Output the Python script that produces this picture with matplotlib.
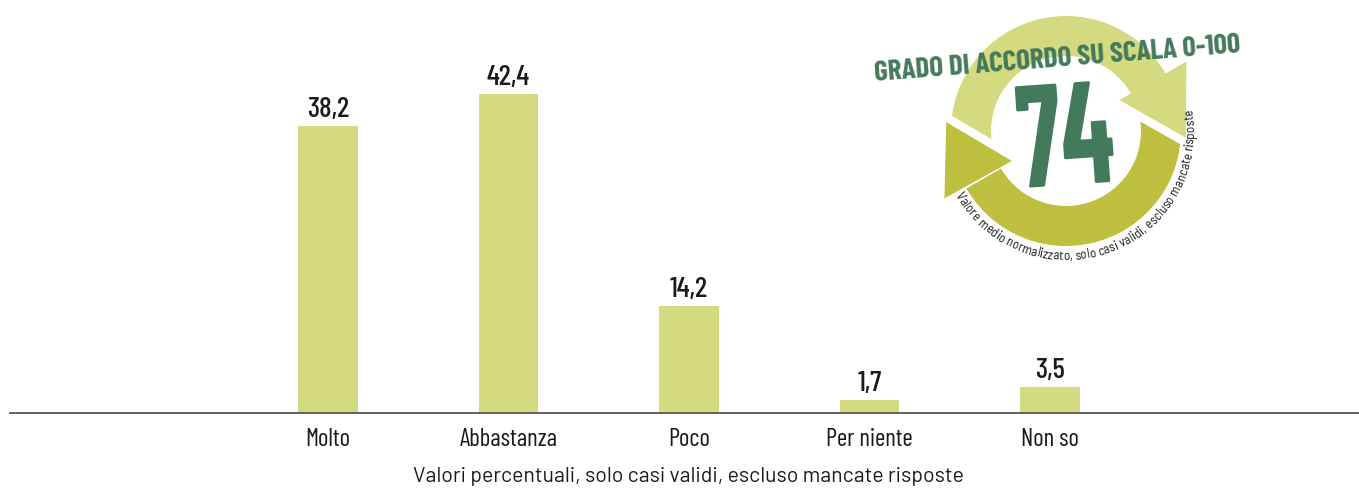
import numpy as np
import matplotlib
matplotlib.use('Agg')
import matplotlib.pyplot as plt
from matplotlib.patches import Wedge, Polygon, PathPatch
from matplotlib.textpath import TextToPath, TextPath
from matplotlib.font_manager import FontProperties
from matplotlib.transforms import Affine2D

# data
categories = ['Molto', 'Abbastanza', 'Poco', 'Per niente', 'Non so']
values = [38.2, 42.4, 14.2, 1.7, 3.5]
score = 74
axis_note = 'Valori percentuali, solo casi validi, escluso mancate risposte'
badge_title = 'GRADO DI ACCORDO SU SCALA 0-100'
badge_note = 'Valore medio normalizzato, solo casi validi, escluso mancate risposte'

# colours
bar_col = '#d4da80'
dark_col = '#bebe3f'
green = '#437a5b'

cond = ['Barlow Condensed', 'Roboto Condensed', 'DejaVu Sans']
semi = ['Barlow Semi Condensed', 'Roboto Condensed', 'DejaVu Sans']
plain = ['Barlow', 'Roboto', 'DejaVu Sans']

W, H = 1359, 489
fig = plt.figure(figsize=(W / 100, H / 100), dpi=100)

# main bar chart
ax = fig.add_axes([10 / W, 75 / H, 1349 / W, 414 / H])
x = np.arange(len(categories))
ax.bar(x, values, width=0.33, color=bar_col, zorder=2)
ax.set_xlim(-1.76, 5.71)
ax.set_ylim(0, 55.1)
for xi, v in zip(x, values):
    ax.annotate(f'{v:.1f}'.replace('.', ','), (xi, v), xytext=(0, 3),
                textcoords='offset points', ha='center', va='bottom',
                family=cond, weight=500, fontsize=21, color='#1a1a1a')
ax.set_xticks(x)
ax.set_xticklabels(categories, family=cond, fontsize=18, color='#1a1a1a')
ax.tick_params(axis='x', length=0, pad=10)
ax.set_yticks([])
for s in ['top', 'left', 'right']:
    ax.spines[s].set_visible(False)
ax.spines['bottom'].set_color('#555555')
ax.spines['bottom'].set_linewidth(1.3)

fig.text(688.5 / W, 1 - 477 / H, axis_note, ha='center', va='center',
         family=plain, fontsize=15.3, color='#1a1a1a')

# badge, drawn in pixel coords (y up)
bx = fig.add_axes([0, 0, 1, 1], facecolor='none')
bx.set_xlim(0, W)
bx.set_ylim(0, H)
bx.axis('off')

cx, cy = 1066, H - 132
r_out, r_in = 115, 75
r_mid = (r_out + r_in) / 2


def head(base_deg, length=70, r0=57, r1=139):
    t = np.radians(base_deg)
    inner = (cx + r0 * np.cos(t), cy + r0 * np.sin(t))
    outer = (cx + r1 * np.cos(t), cy + r1 * np.sin(t))
    mid = np.array([cx + (r_mid + 3) * np.cos(t), cy + (r_mid + 3) * np.sin(t)])
    tip = mid + length * np.array([np.sin(t), -np.cos(t)])
    return inner, outer, tuple(tip)


bx.add_patch(Wedge((cx, cy), r_out, 30, 205, width=r_out - r_in, color=bar_col, lw=0))
bx.add_patch(Wedge((cx, cy), r_out, 210, 385, width=r_out - r_in, color=dark_col, lw=0))

inn, out, tip = head(209)
bx.plot([inn[0], tip[0]], [inn[1], tip[1]], color='white', lw=6, solid_capstyle='butt')
bx.add_patch(Polygon([inn, out, tip], closed=True, color=dark_col, lw=0))

inn, out, tip = head(30)
bx.plot([inn[0], tip[0]], [inn[1], tip[1]], color='white', lw=6, solid_capstyle='butt')
bx.add_patch(Polygon([inn, out, tip], closed=True, color=bar_col, lw=0))

bx.text(1057, H - 59, badge_title, ha='center', va='center', rotation=4.5,
        family=cond, weight=700, fontsize=21, color=green)

# big score, squeezed a little to look like the condensed original
tp = TextPath((0, 0), str(score), size=100, prop=FontProperties(family=cond, weight=700))
ext = tp.get_extents()
sx, sy = 94 / ext.width, 102 / ext.height
tr = (Affine2D().translate(-ext.x0 - ext.width / 2, -ext.y0 - ext.height / 2)
      .scale(sx, sy).rotate_deg(4).translate(1065, H - 135))
bx.add_patch(PathPatch(tr.transform_path(tp), color=green, lw=0))

# curved note round the bottom of the ring
fp = FontProperties(family=semi, size=9.5)
t2p = TextToPath()


def tw(s):
    return t2p.get_text_width_height_descent(s + '|', fp, ismath=False)[0]


bar_w = tw('')
edges = np.array([tw(badge_note[:i]) - bar_w for i in range(len(badge_note) + 1)])
pos = (edges[:-1] + edges[1:]) / 2
a0, a1 = 211, 369
r_txt = 128
ang = a0 + (pos - pos[0]) / (pos[-1] - pos[0]) * (a1 - a0)
for ch, a in zip(badge_note, ang):
    t = np.radians(a)
    bx.text(cx + r_txt * np.cos(t), cy + r_txt * np.sin(t), ch, rotation=a + 90,
            rotation_mode='anchor', ha='center', va='baseline',
            fontproperties=fp, color='#1a1a1a')

fig.savefig('out.png', dpi=100)
